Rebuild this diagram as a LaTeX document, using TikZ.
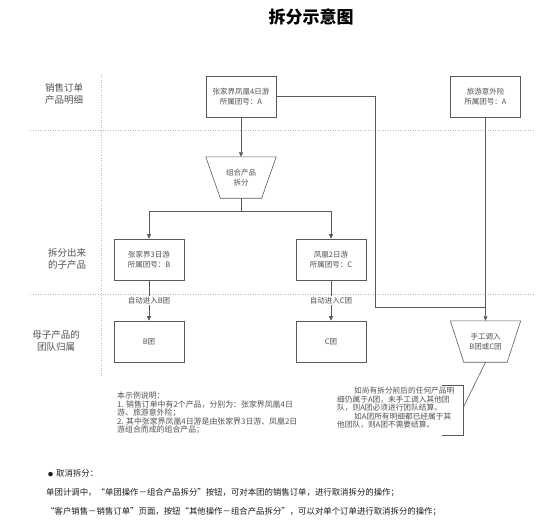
\documentclass[tikz,border=0pt]{standalone}
\usepackage{fontspec}
\setmainfont{Noto Sans CJK SC}
\usetikzlibrary{arrows.meta}
\definecolor{ln}{HTML}{5A5A5A}
\definecolor{gridc}{HTML}{BBBBBB}
\definecolor{txt}{HTML}{505050}
\definecolor{btxt}{HTML}{1A1A1A}
\begin{document}
\begin{tikzpicture}[x=1pt,y=-1pt,
  box/.style={draw=ln, line width=0.6pt, minimum width=70pt, minimum height=41pt, inner sep=0pt, align=center, font=\fontsize{7.5}{9.5}\selectfont, text=txt},
  ghost/.style={minimum width=70pt, minimum height=41pt, inner sep=0pt, align=center, font=\fontsize{7.5}{9.5}\selectfont, text=txt},
  conn/.style={draw=ln, line width=0.6pt},
  arr/.style={conn, -{Triangle[length=4.5pt,width=4pt]}},
  gridline/.style={draw=gridc, line width=0.5pt, dotted},
  lab/.style={align=center, font=\fontsize{9.5}{12}\selectfont, text=txt},
  autolab/.style={fill=white, inner sep=1pt, font=\fontsize{7.5}{9}\selectfont, text=txt},
  note/.style={align=left, anchor=north west, inner sep=0pt, font=\fontsize{7.9}{8.5}\selectfont, text=txt},
  bottom/.style={anchor=west, inner sep=0pt, font=\fontsize{8.4}{10}\selectfont, text=btxt},
]
\useasboundingbox (0,0) rectangle (554,532);

% title
\node[font=\fontsize{17}{20}\selectfont\bfseries, text=black] (title) at (311,17) {拆分示意图};

% grid
\coordinate (h1a) at (30,130); \coordinate (h1b) at (534,130);
\coordinate (h2a) at (30,294); \coordinate (h2b) at (534,294);
\coordinate (va) at (101,75); \coordinate (vb) at (101,376);
\draw[gridline] (h1a) -- (h1b);
\draw[gridline] (h2a) -- (h2b);
\draw[gridline] (va) -- (vb);

% lane labels
\node[lab] (l1) at (64,94) {销售订单\\产品明细};
\node[lab] (l2) at (67,259) {拆分出来\\的子产品};
\node[lab] (l3) at (56,341) {母子产品的\\团队归属};

% boxes
\node[box] (p1) at (241,96.5) {张家界凤凰4日游\\所属团号：A};
\node[box] (p2) at (485.5,96.5) {旅游意外险\\所属团号：A};
\node[ghost] (t1) at (241,177.5) {组合产品\\拆分};
\draw[conn] (t1.north west) -- (t1.north east) -- ([xshift=-14.5pt]t1.south east) -- ([xshift=14.5pt]t1.south west) -- cycle;
\node[box] (pb) at (149,259.5) {张家界3日游\\所属团号：B};
\node[box] (pc) at (331,259.5) {凤凰2日游\\所属团号：C};
\node[box] (bb) at (149,341.5) {B团};
\node[box] (bc) at (331,341.5) {C团};
\node[ghost] (t2) at (485.5,341.5) {手工调入\\B团或C团};
\draw[conn] (t2.north west) -- (t2.north east) -- ([xshift=-13.5pt]t2.south east) -- ([xshift=13.5pt]t2.south west) -- cycle;

% connectors
\draw[arr] (p1.south) -- (t1.north);
\coordinate (sp) at (241,211);
\draw[conn] (t1.south) -- (sp);
\draw[arr] (sp) -| (pb.north);
\draw[arr] (sp) -| (pc.north);
\draw[arr] (pb.south) -- node[autolab, pos=0.5] {自动进入B团} (bb.north);
\draw[arr] (pc.south) -- node[autolab, pos=0.5] {自动进入C团} (bc.north);
\coordinate (rc) at (375,307);
\coordinate (rj) at (485.5,307);
\draw[conn] (p1.east) -| (rc) -- (rj);
\draw[arr] (p2.south) -- (t2.north);

% callout
\coordinate (bk) at (463,408);
\coordinate (bt1) at (442,385); \coordinate (bt2) at (463,385);
\coordinate (bb1) at (463,435); \coordinate (bb2) at (442,435);
\draw[conn] (t2.south) -- (bk);
\draw[conn] (bt1) -- (bt2) -- (bb1) -- (bb2);

% notes
\node[note, font=\fontsize{7.7}{8.5}\selectfont] (n2) at (337,387) {\hspace*{17pt}如尚有拆分前后的任何产品明\\细仍属于A团，未手工调入其他团\\队，则A团必须进行团队结算。\\\hspace*{17pt}如A团所有明细都已经属于其\\他团队，则A团不需要结算。};
\node[note] (n1) at (117,392) {本示例说明：\\1. 销售订单中有2个产品，分别为：张家界凤凰4日\\游、旅游意外险；\\2. 其中张家界凤凰4日游是由张家界3日游、凤凰2日\\游组合而成的组合产品；};

% bottom text
\node[bottom] (bul) at (48,473) {{\fontsize{5}{5}\selectfont ●}\hspace{3pt}取消拆分：};
\node[bottom] (b2) at (46,493) {单团计调中，“单团操作－组合产品拆分”按钮，可对本团的销售订单，进行取消拆分的操作；};
\node[bottom] (b3) at (46,512) {“客户销售－销售订单”页面，按钮“其他操作－组合产品拆分”，可以对单个订单进行取消拆分的操作；};
\end{tikzpicture}
\end{document}
